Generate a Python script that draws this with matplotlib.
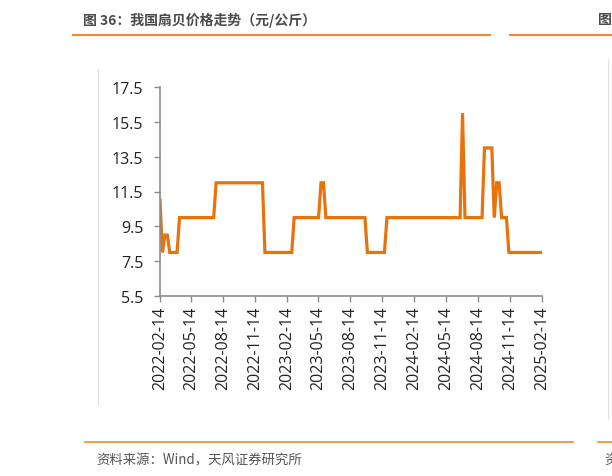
import matplotlib.pyplot as plt
import matplotlib.dates as mdates
import pandas as pd
from matplotlib.lines import Line2D

plt.rcParams['font.family'] = ['Open Sans', 'Noto Sans CJK SC', 'DejaVu Sans']

# turning points of the price line (yuan/kg)
dates = ["2022-02-14", "2022-02-21", "2022-02-28", "2022-03-07", "2022-03-14",
         "2022-04-04", "2022-04-11", "2022-07-18", "2022-07-25", "2022-12-05",
         "2022-12-12", "2023-02-27", "2023-03-06", "2023-05-15", "2023-05-22",
         "2023-05-29", "2023-06-05", "2023-09-25", "2023-10-02", "2023-11-20",
         "2023-11-27", "2024-06-24", "2024-07-01", "2024-07-08", "2024-08-26",
         "2024-09-02", "2024-09-23", "2024-09-30", "2024-10-07", "2024-10-14",
         "2024-10-21", "2024-11-04", "2024-11-11", "2025-02-14"]
prices = [11, 8, 9, 9, 8,
          8, 10, 10, 12, 12,
          8, 8, 10, 10, 12,
          12, 10, 10, 8, 8,
          10, 10, 16, 10, 10,
          14, 14, 10, 12, 12,
          10, 10, 8, 8]
tick_dates = ["2022-02-14", "2022-05-14", "2022-08-14", "2022-11-14",
              "2023-02-14", "2023-05-14", "2023-08-14", "2023-11-14",
              "2024-02-14", "2024-05-14", "2024-08-14", "2024-11-14",
              "2025-02-14"]
y_ticks = [5.5, 7.5, 9.5, 11.5, 13.5, 15.5, 17.5]

title = "图 36：我国扇贝价格走势（元/公斤）"
source = "资料来源：Wind，天风证券研究所"

orange = "#E8720C"
rule = "#F08A2C"
gray = "#8C8C8C"
cjk = ['Noto Sans CJK SC', 'DejaVu Sans']

fig = plt.figure(figsize=(6.12, 4.77), dpi=100)
ax = fig.add_axes([160 / 612, 1 - 297 / 477, 382 / 612, 209 / 477])

ax.plot(pd.to_datetime(dates), prices, color=orange, lw=2.3, solid_joinstyle="miter")

ax.set_xlim(pd.Timestamp("2022-02-14"), pd.Timestamp("2025-02-14"))
ax.set_ylim(5.5, 17.5)
ax.set_yticks(y_ticks)
ax.set_yticklabels([f"{v:.1f}" for v in y_ticks])
ax.set_xticks(pd.to_datetime(tick_dates))
ax.xaxis.set_major_formatter(mdates.DateFormatter("%Y-%m-%d"))
for lab in ax.get_xticklabels():
    lab.set_rotation(90)

ax.tick_params(axis="both", colors=gray, labelcolor="#222222", labelsize=11.5,
               length=4, width=1)
ax.tick_params(axis="y", pad=8)
ax.tick_params(axis="x", pad=3)
for s in ["top", "right"]:
    ax.spines[s].set_visible(False)
for s in ["left", "bottom"]:
    ax.spines[s].set_color(gray)
    ax.spines[s].set_linewidth(1.2)

# page decorations
fig.text(83 / 612, 1 - 20 / 477, title, fontsize=10, color="#4A4A4A",
         fontweight="bold", va="center", ha="left", family=cjk)
fig.text(598 / 612, 1 - 20 / 477, "图", fontsize=10, color="#4A4A4A",
         fontweight="bold", va="center", ha="left", family=cjk)
fig.add_artist(Line2D([73 / 612, 490 / 612], [1 - 36 / 477] * 2, color=rule, lw=1.5))
fig.add_artist(Line2D([510 / 612, 1], [1 - 36 / 477] * 2, color=rule, lw=1.5))
fig.add_artist(Line2D([98 / 612] * 2, [1 - 70 / 477, 1 - 405 / 477], color="#E0E0E0", lw=0.8))
fig.add_artist(Line2D([608 / 612] * 2, [1 - 60 / 477, 1 - 420 / 477], color="#E0E0E0", lw=0.8))
fig.add_artist(Line2D([85 / 612, 573 / 612], [1 - 443 / 477] * 2, color=rule, lw=1.2))
fig.add_artist(Line2D([598 / 612, 1], [1 - 443 / 477] * 2, color=rule, lw=1.2))
fig.text(96 / 612, 1 - 460 / 477, source, fontsize=9.6, color="#555555",
         va="center", ha="left", family=cjk)
fig.text(604 / 612, 1 - 460 / 477, "资", fontsize=9.6, color="#555555",
         va="center", ha="left", family=cjk)

fig.savefig("out.png", dpi=100)
